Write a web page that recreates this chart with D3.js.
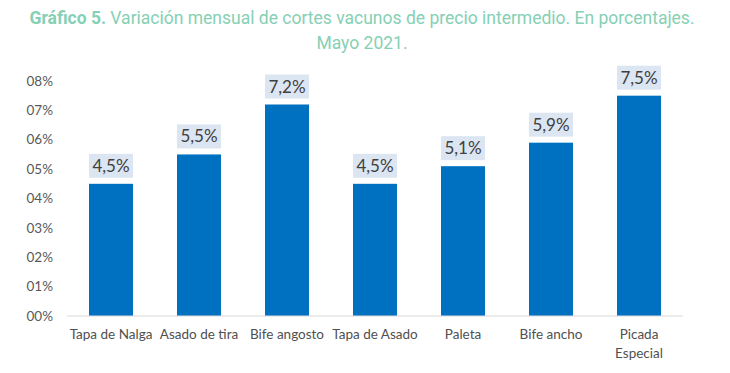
<!DOCTYPE html>
<html>
<head>
<meta charset="utf-8">
<script src="https://cdn.jsdelivr.net/npm/d3@7"></script>
<style>
  body { margin: 0; background: #fff; }
  svg text { font-family: Lato, "Open Sans", sans-serif; }
</style>
</head>
<body>
<svg id="chart" width="730" height="373"></svg>
<script>
// categories and values (percent)
const cortes = ["Tapa de Nalga", "Asado de tira", "Bife angosto", "Tapa de Asado", "Paleta", "Bife ancho", "Picada Especial"];
const variacion = [4.5, 5.5, 7.2, 4.5, 5.1, 5.9, 7.5];
const yTicks = [0, 1, 2, 3, 4, 5, 6, 7, 8];

let svg = d3.select('#chart');

// title
let title = svg.append('text')
    .attr('x', 362)
    .attr('y', 24)
    .attr('text-anchor', 'middle')
    .style('font-family', 'Roboto, sans-serif')
    .style('font-size', '17.5px')
    .style('fill', '#86d0b4');
title.append('tspan').style('font-weight', 'bold').text('Gráfico 5.');
title.append('tspan').text(' Variación mensual de cortes vacunos de precio intermedio. En porcentajes.');
svg.append('text')
    .attr('x', 362)
    .attr('y', 49)
    .attr('text-anchor', 'middle')
    .style('font-family', 'Roboto, sans-serif')
    .style('font-size', '17.5px')
    .style('fill', '#86d0b4')
    .text('Mayo 2021.');

let x = d3.scaleBand()
    .domain(cortes)
    .range([67, 683])
    .paddingInner(0.5)
    .paddingOuter(0.25);

let y = d3.scaleLinear()
    .domain([0, 8])
    .range([316, 81]);

// y axis labels (no line)
svg.selectAll('text.ytick')
    .data(yTicks)
    .enter().append('text')
    .attr('class', 'ytick')
    .attr('x', 53)
    .attr('y', d => y(d))
    .attr('dy', '0.35em')
    .attr('text-anchor', 'end')
    .style('font-size', '13.5px')
    .style('fill', '#595959')
    .text(d => '0' + d + '%');

// bars
svg.selectAll('rect.bar')
    .data(variacion)
    .enter().append('rect')
    .attr('class', 'bar')
    .attr('x', (d, i) => x(cortes[i]))
    .attr('y', d => y(d))
    .attr('width', x.bandwidth())
    .attr('height', d => y(0) - y(d))
    .attr('fill', '#0070c0');

// baseline
svg.append('line')
    .attr('x1', 67).attr('x2', 683)
    .attr('y1', y(0)).attr('y2', y(0))
    .attr('stroke', '#d9d9d9')
    .attr('stroke-width', 1);

// value labels with boxes
let lab = svg.selectAll('g.lab')
    .data(variacion)
    .enter().append('g')
    .attr('class', 'lab')
    .attr('transform', (d, i) => `translate(${x(cortes[i]) + x.bandwidth() / 2}, ${y(d) - 6})`);

lab.append('rect')
    .attr('x', -x.bandwidth() / 2)
    .attr('y', -24)
    .attr('width', x.bandwidth())
    .attr('height', 24)
    .attr('fill', '#dce6f2');

lab.append('text')
    .attr('y', -6)
    .attr('text-anchor', 'middle')
    .style('font-size', '17px')
    .style('fill', '#404040')
    .text(d => d.toFixed(1).replace('.', ',') + '%');

// category labels
let cat = svg.selectAll('text.cat')
    .data(cortes)
    .enter().append('text')
    .attr('class', 'cat')
    .attr('x', d => x(d) + x.bandwidth() / 2)
    .attr('y', 339)
    .attr('text-anchor', 'middle')
    .style('font-size', '13.5px')
    .style('fill', '#505050');

cat.each(function (d) {
    let words = d === 'Picada Especial' ? ['Picada', 'Especial'] : [d];
    d3.select(this).selectAll('tspan')
        .data(words)
        .enter().append('tspan')
        .attr('x', x(d) + x.bandwidth() / 2)
        .attr('dy', (w, i) => i === 0 ? 0 : 19)
        .text(w => w);
});
</script>
</body>
</html>
